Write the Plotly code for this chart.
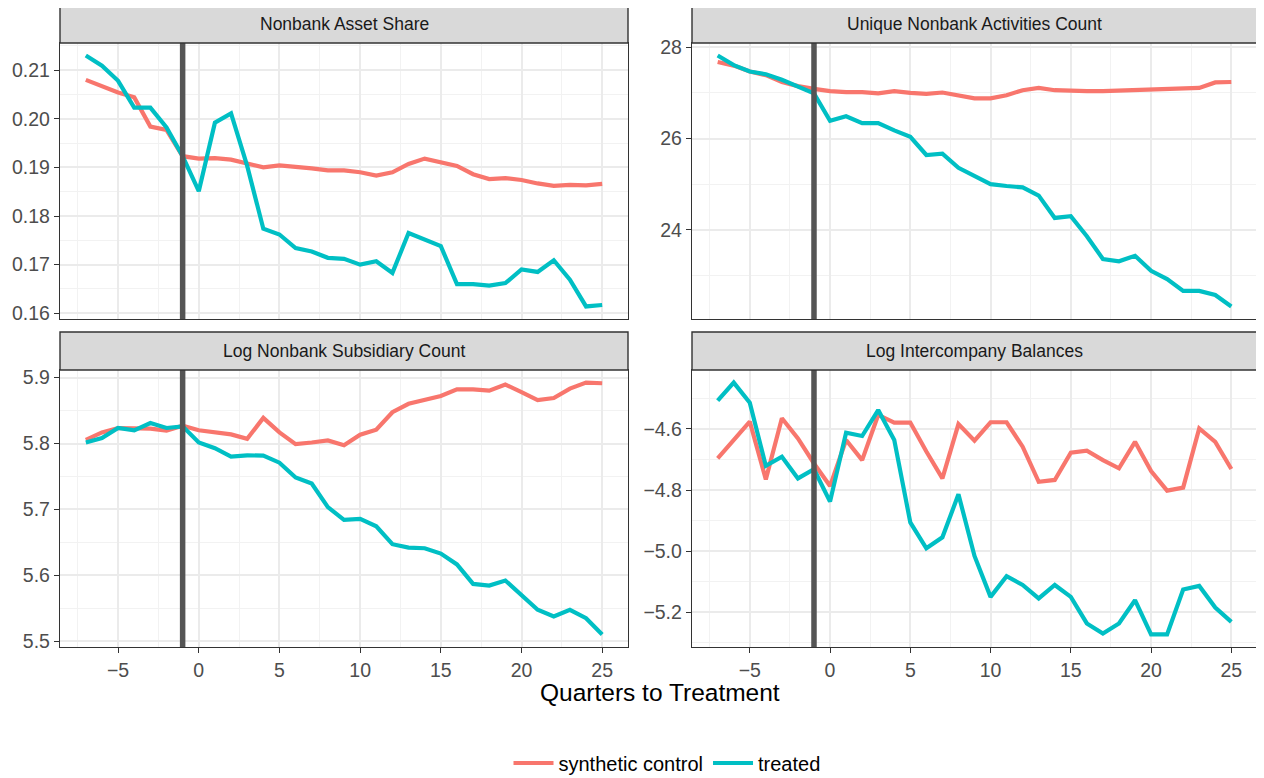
import plotly.graph_objects as go

# ---------------- data ----------------
quarters = list(range(-7, 26))
treatment_quarter = -1

panel_titles = [
    "Nonbank Asset Share",
    "Unique Nonbank Activities Count",
    "Log Nonbank Subsidiary Count",
    "Log Intercompany Balances",
]

asset_share_synth = [0.2080, 0.2066, 0.2054, 0.2044, 0.1984, 0.1977, 0.1923, 0.1918, 0.1919,
                     0.1916, 0.1908, 0.1900, 0.1904, 0.1902, 0.1898, 0.1894, 0.1894, 0.1890,
                     0.1883, 0.1890, 0.1907, 0.1918, 0.1910, 0.1903, 0.1886, 0.1876, 0.1878,
                     0.1874, 0.1867, 0.1862, 0.1864, 0.1863, 0.1866]
asset_share_treated = [0.2130, 0.2109, 0.2078, 0.2023, 0.2023, 0.1982, 0.1923, 0.1851, 0.1992,
                       0.2011, 0.1903, 0.1774, 0.1762, 0.1734, 0.1727, 0.1714, 0.1712, 0.1700,
                       0.1707, 0.1683, 0.1765, 0.1752, 0.1738, 0.1660, 0.1660, 0.1657, 0.1662,
                       0.1690, 0.1685, 0.1709, 0.1669, 0.1614, 0.1617]

activities_synth = [27.68, 27.60, 27.47, 27.39, 27.24, 27.15, 27.09, 27.04, 27.02, 27.02, 26.99,
                    27.04, 27.00, 26.98, 27.01, 26.95, 26.88, 26.88, 26.95, 27.06, 27.11, 27.06,
                    27.04, 27.04, 27.04, 27.05, 27.07, 27.08, 27.07, 27.09, 27.11, 27.23, 27.24]
activities_treated = [27.82, 27.61, 27.47, 27.41, 27.29, 27.15, 26.99, 26.39, 26.49, 26.34, 26.34,
                      26.18, 26.04, 25.64, 25.67, 25.36, 25.17, 25.00, 24.96, 24.93, 24.75, 24.26,
                      24.30, 23.86, 23.36, 23.31, 23.43, 23.10, 22.92, 22.66, 22.66, 22.57, 22.32]

subsid_synth = [5.8056, 5.8168, 5.8235, 5.8235, 5.8224, 5.8194, 5.8270, 5.8200, 5.8168, 5.8138,
                5.8071, 5.8388, 5.8168, 5.7990, 5.8015, 5.8046, 5.7974, 5.8133, 5.8209, 5.8474,
                5.8602, 5.8658, 5.8719, 5.8821, 5.8821, 5.8800, 5.8893, 5.8780, 5.8658, 5.8689,
                5.8832, 5.8923, 5.8913]
subsid_treated = [5.8015, 5.8082, 5.8235, 5.8200, 5.8311, 5.8235, 5.8260, 5.8015, 5.7929, 5.7801,
                  5.7821, 5.7816, 5.7709, 5.7485, 5.7393, 5.7036, 5.6842, 5.6857, 5.6745, 5.6474,
                  5.6423, 5.6413, 5.6332, 5.6168, 5.5872, 5.5847, 5.5923, 5.5709, 5.5480, 5.5378,
                  5.5480, 5.5352, 5.5107]

interco_synth = [-4.696, -4.634, -4.576, -4.765, -4.565, -4.631, -4.713, -4.787, -4.636, -4.702,
                 -4.554, -4.579, -4.579, -4.674, -4.762, -4.584, -4.638, -4.578, -4.578, -4.658,
                 -4.773, -4.767, -4.678, -4.671, -4.702, -4.729, -4.642, -4.738, -4.802, -4.792,
                 -4.598, -4.642, -4.731]
interco_treated = [-4.507, -4.448, -4.514, -4.721, -4.691, -4.762, -4.732, -4.838, -4.612, -4.623,
                   -4.538, -4.636, -4.906, -4.991, -4.955, -4.814, -5.016, -5.150, -5.082, -5.111,
                   -5.155, -5.111, -5.150, -5.237, -5.270, -5.237, -5.161, -5.273, -5.273, -5.126,
                   -5.114, -5.185, -5.232]

y_dticks = [0.01, 2, 0.1, 0.2]
y_formats = [".2f", "d", ".1f", ".1f"]

series_names = ["synthetic control", "treated"]
series_colors = ["#F8766D", "#00BFC4"]

panels = [
    (asset_share_synth, asset_share_treated),
    (activities_synth, activities_treated),
    (subsid_synth, subsid_treated),
    (interco_synth, interco_treated),
]

# ---------------- layout geometry ----------------
# The page body has an 8px margin, so the figure is drawn 8px in from the
# window corner; window-pixel positions are converted accordingly.
OFF = 8
W, H = 1264 - OFF, 778 - OFF
FONT = "Liberation Sans, Arial, sans-serif"


def px_x(p):
    return (p - OFF) / W


def px_y(p):
    return 1 - (p - OFF) / H


x_doms = [[px_x(60), px_x(628)], [px_x(692), px_x(1257)]]
plot_rows = [(43, 319), (370, 647)]   # top/bottom window pixel of plot area per row
strip_rows = [(5, 43), (332, 370)]


def expand(a, b, mult=0.05):
    lo, hi = min(min(a), min(b)), max(max(a), max(b))
    span = hi - lo
    return [lo - mult * span, hi + mult * span]


x_range = [quarters[0] - 0.05 * (quarters[-1] - quarters[0]),
           quarters[-1] + 0.05 * (quarters[-1] - quarters[0])]

fig = go.Figure()
layout = dict(
    width=W, height=H,
    margin=dict(l=0, r=0, t=0, b=0, autoexpand=False),
    paper_bgcolor="white", plot_bgcolor="white",
    font=dict(family=FONT, color="#4D4D4D"),
    showlegend=True,
)
shapes = []
annotations = []

for i, (synth, treat) in enumerate(panels):
    row, col = divmod(i, 2)
    n = i + 1
    xa = "x" if n == 1 else f"x{n}"
    ya = "y" if n == 1 else f"y{n}"
    xkey = "xaxis" if n == 1 else f"xaxis{n}"
    ykey = "yaxis" if n == 1 else f"yaxis{n}"
    top, bot = plot_rows[row]
    bottom_row = row == 1

    layout[xkey] = dict(
        domain=x_doms[col], anchor=ya, range=x_range, automargin=False,
        tickmode="linear", tick0=0, dtick=5,
        showgrid=True, gridcolor="#EBEBEB", gridwidth=1.6,
        minor=dict(showgrid=True, gridcolor="#F2F2F2", gridwidth=1, tick0=0, dtick=2.5),
        showline=True, linecolor="#333333", linewidth=1.4, mirror=True,
        ticks="outside" if bottom_row else "", ticklen=5, tickcolor="#333333", tickwidth=1.4,
        showticklabels=bottom_row,
        tickfont=dict(size=19.5, color="#4D4D4D", family=FONT),
        zeroline=False,
    )
    yr = expand(synth, treat)
    layout[ykey] = dict(
        domain=[px_y(bot), px_y(top)], anchor=xa, range=yr, automargin=False,
        tickmode="linear", tick0=0, dtick=y_dticks[i], tickformat=y_formats[i],
        showgrid=True, gridcolor="#EBEBEB", gridwidth=1.6,
        minor=dict(showgrid=True, gridcolor="#F2F2F2", gridwidth=1, tick0=0,
                   dtick=y_dticks[i] / 2),
        showline=True, linecolor="#333333", linewidth=1.4, mirror=True,
        ticks="outside", ticklen=5, tickcolor="#333333", tickwidth=1.4,
        tickfont=dict(size=19.5, color="#4D4D4D", family=FONT),
        zeroline=False,
    )

    for s, (vals, name, color) in enumerate(zip((synth, treat), series_names, series_colors)):
        fig.add_trace(go.Scatter(
            x=quarters, y=vals, mode="lines", name=name,
            line=dict(color=color, width=4.2),
            xaxis=xa, yaxis=ya,
            legendgroup=name, showlegend=(i == 0),
        ))

    # treatment line
    shapes.append(dict(
        type="line", xref=xa, yref=f"{ya} domain",
        x0=treatment_quarter, x1=treatment_quarter, y0=0, y1=1,
        line=dict(color="#555555", width=5.5), layer="above",
    ))

    # facet strip
    s_top, s_bot = strip_rows[row]
    shapes.append(dict(
        type="rect", xref="paper", yref="paper",
        x0=x_doms[col][0], x1=x_doms[col][1], y0=px_y(s_bot), y1=px_y(s_top),
        fillcolor="#D9D9D9", line=dict(color="#333333", width=1.4), layer="above",
    ))
    annotations.append(dict(
        text=panel_titles[i], xref="paper", yref="paper",
        x=(x_doms[col][0] + x_doms[col][1]) / 2, y=px_y((s_top + s_bot) / 2),
        xanchor="center", yanchor="middle", showarrow=False,
        font=dict(size=17.5, color="#1A1A1A", family=FONT),
    ))

annotations.append(dict(
    text="Quarters to Treatment", xref="paper", yref="paper",
    x=px_x(660), y=px_y(692), xanchor="center", yanchor="middle", showarrow=False,
    font=dict(size=24.5, color="#000000", family=FONT),
))

layout["shapes"] = shapes
layout["annotations"] = annotations
layout["legend"] = dict(
    orientation="h", x=px_x(667), y=px_y(763), xanchor="center", yanchor="middle",
    font=dict(size=20, color="#000000", family=FONT),
    bgcolor="rgba(0,0,0,0)", itemwidth=40, tracegroupgap=0,
)
fig.update_layout(**layout)

fig.write_html("out.html")
